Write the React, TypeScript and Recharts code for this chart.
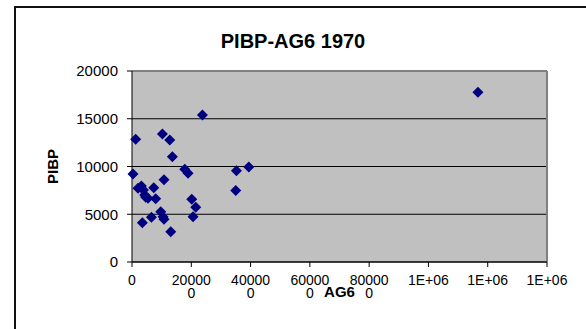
import React from 'react';
import { ScatterChart, Scatter, XAxis, YAxis, CartesianGrid, ReferenceLine } from 'recharts';

// AG6 (x) and PIBP (y)
const ag6 = [
  237700, 12500, 102600, 127300, 136300, 3400, 177900, 189100, 352400, 394000,
  108000, 350100, 20300, 31700, 38500, 73300, 42900, 54000, 80000, 46300,
  201500, 215000, 96900, 104700, 108000, 65500, 206000, 35100, 130700, 1167000,
];
const pibp = [
  15390, 12850, 13400, 12770, 11030, 9210, 9700, 9290, 9560, 9950,
  8620, 7500, 7710, 7960, 7540, 7780, 7020, 6670, 6630, 6770,
  6560, 5720, 5270, 4740, 4470, 4680, 4740, 4120, 3180, 17770,
];

const xTicks = [0, 200000, 400000, 600000, 800000, 1000000, 1200000, 1400000];
// Excel wraps the long labels onto a second line
const xTickLabels = [['0'], ['20000', '0'], ['40000', '0'], ['60000', '0'], ['80000', '0'], ['1E+06'], ['1E+06'], ['1E+06']];
const yTicks = [0, 5000, 10000, 15000, 20000];

const points = ag6.map((x, i) => ({ x, y: pibp[i] }));

const FONT = '"Liberation Sans", Arial, sans-serif';

const XTick = (props: any) => {
  const { x, y, payload } = props;
  const lines = xTickLabels[xTicks.indexOf(payload.value)] || [];
  return (
    <g>
      {lines.map((l, i) => (
        <text key={i} x={x} y={y + 16 + i * 13} textAnchor="middle" fontSize={14} fill="#000" fontFamily={FONT}>
          {l}
        </text>
      ))}
    </g>
  );
};

const Diamond = (props: any) => {
  const { cx, cy } = props;
  const r = 5.5;
  return <path d={`M${cx},${cy - r}L${cx + r},${cy}L${cx},${cy + r}L${cx - r},${cy}Z`} fill="#000080" />;
};

const YTitle = (props: any) => {
  const vb = props.viewBox || { x: 0, y: 71, width: 132, height: 191 };
  const cx = vb.x + 53;
  const cy = vb.y + vb.height / 2;
  return (
    <text x={cx} y={cy} transform={`rotate(-90 ${cx} ${cy})`} textAnchor="middle" dy="0.355em"
      fontSize={15} fontWeight="bold" fontFamily={FONT} fill="#000">PIBP</text>
  );
};

const XTitle = (props: any) => {
  const vb = props.viewBox || { x: 132, y: 262, width: 415, height: 67 };
  return (
    <text x={vb.x + vb.width / 2} y={vb.y + 35} textAnchor="middle"
      fontSize={15} fontWeight="bold" fontFamily={FONT} fill="#000">AG6</text>
  );
};

export default function App() {
  return (
    <div style={{ position: 'absolute', left: 0, top: 0, width: 586, height: 329, overflow: 'hidden', background: '#fff' }}>
      <div style={{ position: 'absolute', left: 14, top: 6, width: 640, height: 400, border: '2px solid #111' }} />
      <div style={{
        position: 'absolute', left: 14, width: 558, top: 30, textAlign: 'center',
        fontFamily: FONT, fontWeight: 'bold', fontSize: 20, color: '#000',
      }}>
        PIBP-AG6 1970
      </div>
      <div style={{ position: 'absolute', left: 0, top: 0 }}>
        <ScatterChart width={586} height={329} margin={{ top: 71, right: 39, bottom: 0, left: 0 }}>
          <CartesianGrid vertical={false} stroke="#000" fill="#C0C0C0" fillOpacity={1} />
          <XAxis
            type="number"
            dataKey="x"
            domain={[0, 1400000]}
            ticks={xTicks}
            interval={0}
            height={67}
            tickSize={5}
            tick={<XTick />}
            axisLine={{ stroke: '#000' }}
            tickLine={{ stroke: '#000' }}
            label={<XTitle />}
          />
          <YAxis
            type="number"
            dataKey="y"
            domain={[0, 20000]}
            ticks={yTicks}
            interval={0}
            width={132}
            tickSize={5}
            tickMargin={9}
            tick={{ fontSize: 15, fill: '#000', fontFamily: FONT }}
            axisLine={{ stroke: '#000' }}
            tickLine={{ stroke: '#000' }}
            label={<YTitle />}
          />
          <ReferenceLine y={20000} stroke="#808080" strokeWidth={2} />
          <ReferenceLine x={1400000} stroke="#808080" strokeWidth={2} />
          <Scatter data={points} shape={<Diamond />} isAnimationActive={false} />
        </ScatterChart>
      </div>
    </div>
  );
}
